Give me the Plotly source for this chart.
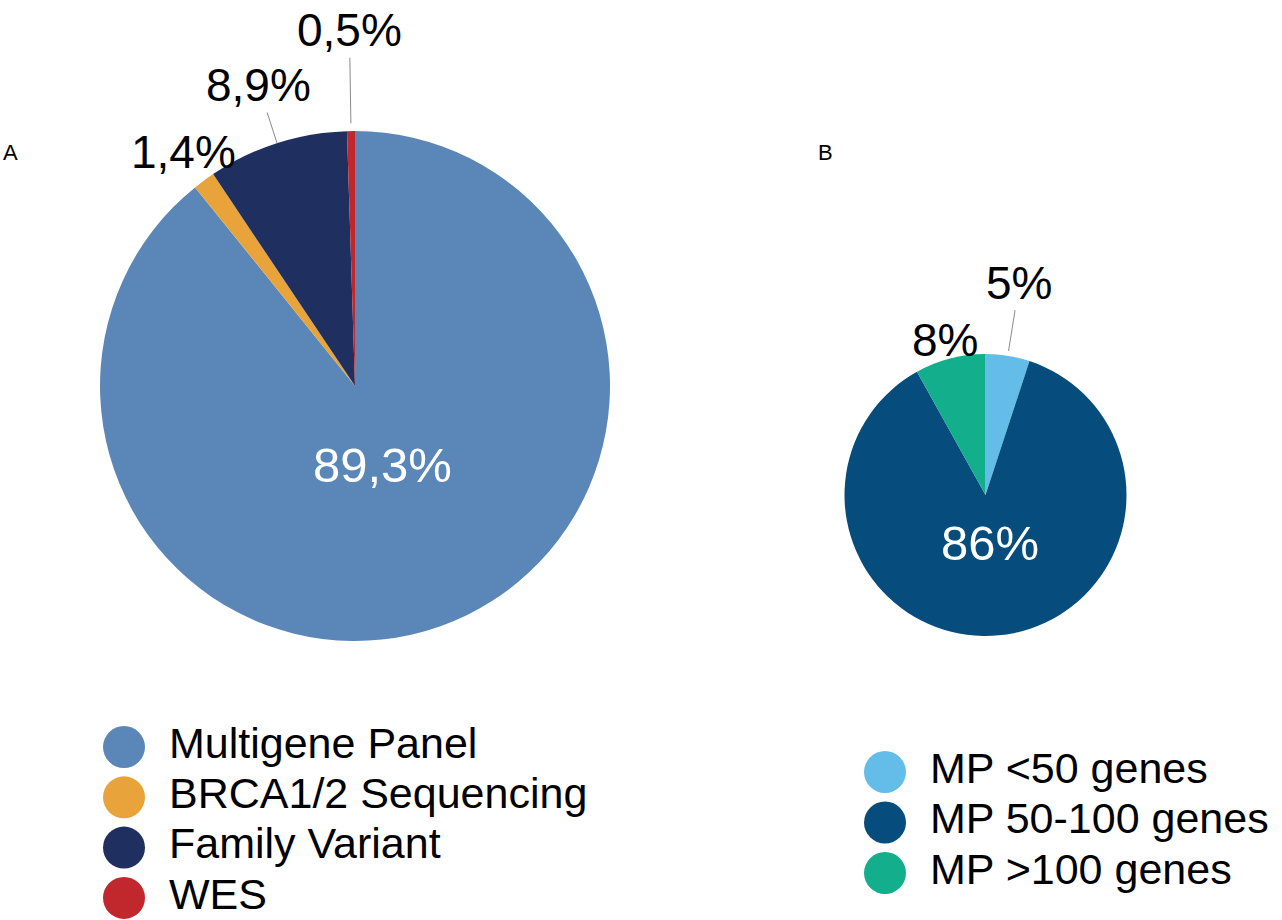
import numpy as np
import plotly.graph_objects as go

W, H = 1282, 920
FONT = "Liberation Sans, Arial, sans-serif"

# panel A: type of test
labels_a = ["Multigene Panel", "BRCA1/2 Sequencing", "Family Variant", "WES"]
values_a = [89.3, 1.4, 8.9, 0.5]
colors_a = ["#5b87b8", "#e8a33a", "#1f2f5f", "#c0282e"]

# panel B: multigene panel size
labels_b = ["MP <50 genes", "MP 50-100 genes", "MP >100 genes"]
values_b = [5, 86, 8]
colors_b = ["#63bde8", "#064d7d", "#13ae8b"]


def pct(v):
    s = f"{v:.1f}" if v != int(v) else f"{int(v)}"
    return s.replace(".", ",") + "%"


def mid_angle(values, i):
    tot = sum(values)
    return 2 * np.pi * (sum(values[:i]) + values[i] / 2) / tot


def to_paper(px, py):
    return px / W, 1 - py / H


def pie_domain(cx, cy, r):
    return dict(x=[(cx - r) / W, (cx + r) / W], y=[1 - (cy + r) / H, 1 - (cy - r) / H])


# pie geometry (px): centre and radius
CA, RA = (355, 386), 255
CB, RB = (985.5, 495), 141

# labels: (slice index, text radius factor, leader tip factor or None, colour, size)
lab_a = [(0, 0.33, None, "white", 49), (1, 1.137, None, "black", 46),
         (2, 1.24, 1.0, "black", 46), (3, 1.395, 1.03, "black", 46)]
lab_b = [(0, 1.525, 1.035, "black", 46), (1, 0.34, None, "white", 49),
         (2, 1.135, None, "black", 46)]

fig = go.Figure()

for vals, cols, labs, c, r in [
    (values_a, colors_a, labels_a, CA, RA),
    (values_b, colors_b, labels_b, CB, RB),
]:
    fig.add_trace(go.Pie(
        labels=labs, values=vals, sort=False, direction="clockwise", rotation=0,
        marker=dict(colors=cols, line=dict(width=0)),
        textinfo="none", hovertemplate="%{label}: %{value}%<extra></extra>",
        domain=pie_domain(c[0], c[1], r), showlegend=False,
    ))

annotations = []
for vals, c, r, labs in [(values_a, CA, RA, lab_a), (values_b, CB, RB, lab_b)]:
    for i, tr, tip, col, fs in labs:
        a = mid_angle(vals, i)
        tx, ty = c[0] + tr * r * np.sin(a), c[1] - tr * r * np.cos(a)
        font = dict(size=fs, color=col, family=FONT)
        if tip is None:
            x, y = to_paper(tx, ty)
            annotations.append(dict(x=x, y=y, xref="paper", yref="paper", text=pct(vals[i]),
                                    showarrow=False, xanchor="center", yanchor="middle",
                                    font=font))
        else:
            hx, hy = c[0] + tip * r * np.sin(a), c[1] - tip * r * np.cos(a)
            x, y = to_paper(hx, hy)
            annotations.append(dict(x=x, y=y, xref="paper", yref="paper", text=pct(vals[i]),
                                    showarrow=True, arrowhead=0, arrowwidth=1, arrowcolor="#8a8a8a",
                                    ax=tx - hx, ay=ty - hy, standoff=0, font=font))

for txt, px in [("A", 10), ("B", 825)]:
    x, y = to_paper(px, 153)
    annotations.append(dict(x=x, y=y, xref="paper", yref="paper", text=txt, showarrow=False,
                            xanchor="center", yanchor="middle",
                            font=dict(size=22, color="black", family=FONT)))


# custom legends with large circles, drawn on hidden axes
def rows_domain(top_px, step_px, n, pad=0.4):
    top = top_px - pad * step_px
    bot = top_px + (n - 1 + pad) * step_px
    return [1 - bot / H, 1 - top / H], [-(n - 1) - pad, pad]


for labs, cols, xa, ya, mx in [
    (labels_a, colors_a, "x", "y", 124),
    (labels_b, colors_b, "x2", "y2", 885),
]:
    ys = [-i for i in range(len(labs))]
    fig.add_trace(go.Scatter(x=[mx] * len(labs), y=ys, mode="markers", xaxis=xa, yaxis=ya,
                             marker=dict(size=42, color=cols), cliponaxis=False,
                             showlegend=False, hoverinfo="skip"))
    fig.add_trace(go.Scatter(x=[mx + 45] * len(labs), y=ys, mode="text", text=labs,
                             textposition="middle right", xaxis=xa, yaxis=ya,
                             textfont=dict(size=43, color="black", family=FONT),
                             cliponaxis=False, showlegend=False, hoverinfo="skip"))

dom_a, rng_a = rows_domain(747, 50.3, len(labels_a))
dom_b, rng_b = rows_domain(772, 50.5, len(labels_b))
hidden = dict(visible=False, showgrid=False, zeroline=False, fixedrange=True)

fig.update_layout(
    width=W, height=H, margin=dict(l=0, r=0, t=0, b=0),
    paper_bgcolor="white", plot_bgcolor="rgba(0,0,0,0)",
    font=dict(family=FONT, color="black"),
    annotations=annotations,
    xaxis=dict(domain=[0, 0.5], range=[0, W / 2], **hidden),
    yaxis=dict(domain=dom_a, range=rng_a, **hidden),
    xaxis2=dict(domain=[0.5, 1], range=[W / 2, W], **hidden),
    yaxis2=dict(domain=dom_b, range=rng_b, **hidden),
)

fig.write_html("out.html", config={"displayModeBar": False},
               post_script="document.body.style.margin = '0';")
